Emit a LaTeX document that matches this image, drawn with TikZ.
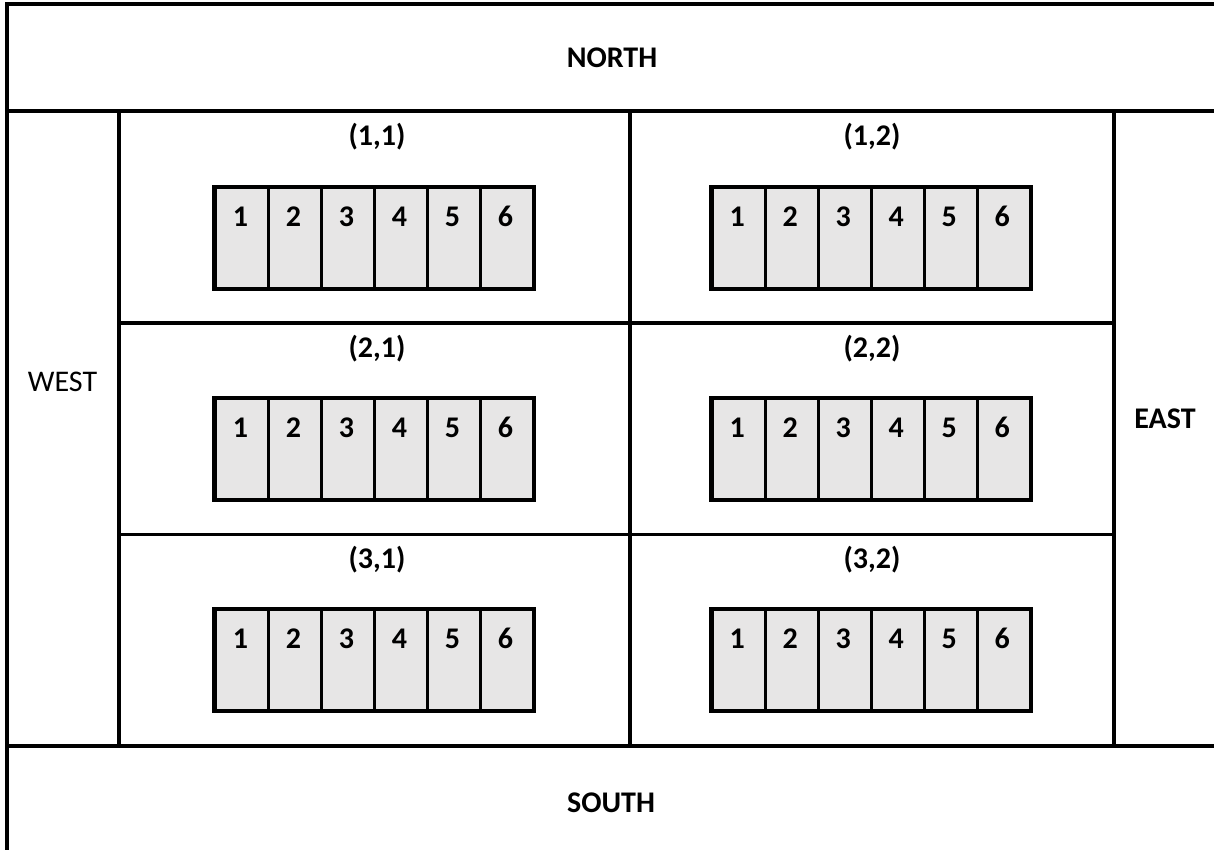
\documentclass[tikz,border=0pt]{standalone}
\usepackage{fontspec}
\setmainfont{Carlito}
\definecolor{slotgray}{HTML}{E7E6E6}
\begin{document}
\begin{tikzpicture}[x=1pt,y=-1pt,
  frame/.style={line width=3.2pt},
  slotbox/.style={draw, line width=2.7pt, fill=slotgray, minimum width=53pt, minimum height=100pt, inner sep=0pt, anchor=north west},
  outerbox/.style={draw, line width=3.4pt},
  lbl/.style={font=\fontsize{30}{34}\selectfont\bfseries, inner sep=0pt},
  plainlbl/.style={font=\fontsize{30}{34}\selectfont, inner sep=0pt}]
\useasboundingbox (0,0) rectangle (1214,849);
% frame lines
\draw[frame] (7,4) -- (1225,4);
\draw[frame] (7,2.4) -- (7,860);
\draw[frame] (7,111) -- (1225,111);
\draw[frame] (7,746) -- (1225,746);
\draw[frame] (119,111) -- (119,746);
\draw[frame] (1114,111) -- (1114,746);
\draw[frame] (630,111) -- (630,746);
\draw[frame] (119,323) -- (1114,323);
\draw[frame] (119,534.5) -- (1114,534.5);
% region labels
\node[lbl] (north) at (612,58) {NORTH};
\node[lbl] (south) at (611,803) {SOUTH};
\node[plainlbl] (west) at (62.5,382) {WEST};
\node[lbl] (east) at (1165,419) {EAST};
% cells
\foreach \r/\ry/\ly in {1/186.5/137, 2/397.5/348.5, 3/608.5/560}{
  \foreach \c/\cx/\lx in {1/214/377, 2/710.8/872}{
    \node[lbl] (lab-\r-\c) at (\lx,\ly) {(\r,\c)};
    \foreach \k in {1,...,6}{
      \node[slotbox] (s-\r-\c-\k) at ({\cx+(\k-1)*53},\ry) {};
      \node[lbl] (d-\r-\c-\k) at ({\cx+(\k-0.5)*53},{\ry+30}) {\k};
    }
    \draw[outerbox] (s-\r-\c-1.north west) rectangle (s-\r-\c-6.south east);
  }
}
\end{tikzpicture}
\end{document}
